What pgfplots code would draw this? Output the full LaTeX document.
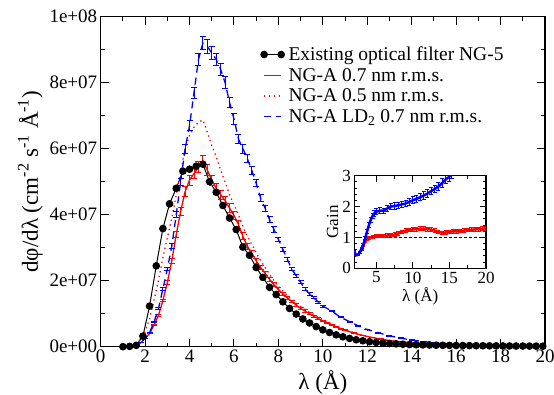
\documentclass[border=0pt]{standalone}
\usepackage{pgfplots}
\usepackage{pgfplotstable}
\usepackage{fontspec}
\setmainfont{Liberation Serif}
\pgfplotsset{compat=1.18}
\pgfplotsset{endmarks legend/.style={legend image code/.code={\draw[##1, mark repeat=1] plot coordinates {(0cm,0cm) (0.6cm,0cm)};}}}

\pgfplotstableread{
x y
1.0 0
1.3 0.1
1.6 0.4
1.9 3.2
2.2 12.3
2.5 24.5
2.8 35.8
3.1 43.3
3.4 48.0
3.7 53.2
4.0 53.8
4.3 54.7
4.6 55.3
4.9 50.0
5.2 46.8
5.5 42.8
5.8 39.0
6.1 35.5
6.4 30.2
6.7 27.7
7.0 24.0
7.3 21.0
7.6 18.0
7.9 15.8
8.2 13.6
8.5 11.6
8.8 9.9
9.1 8.4
9.4 7.2
9.7 6.1
10.0 5.1
10.3 4.3
10.6 3.6
10.9 3.0
11.2 2.5
11.5 2.1
11.8 1.8
12.1 1.5
12.4 1.3
12.7 1.1
13.0 0.95
13.3 0.85
13.6 0.75
13.9 0.65
14.2 0.6
14.5 0.55
14.8 0.5
15.1 0.45
15.4 0.42
15.7 0.4
16.0 0.37
16.3 0.35
16.6 0.33
16.9 0.3
17.2 0.28
17.5 0.26
17.8 0.25
18.1 0.23
18.4 0.22
18.7 0.2
19.0 0.19
19.3 0.18
19.6 0.17
19.9 0.16
}\blackdata

\pgfplotstableread{
x y
1.4 0
1.6 0.3
1.8 1.2
2.0 2.5
2.2 4.0
2.4 6.5
2.6 9.5
2.8 14.0
3.0 19.5
3.2 26.0
3.4 34.0
3.6 41.0
3.8 47.0
4.0 50.5
4.2 52.5
4.4 54.5
4.6 56.3
4.8 53.5
5.0 50.5
5.2 48.0
5.4 46.0
5.6 44.3
5.8 42.0
6.0 39.8
6.2 37.0
6.4 33.5
6.6 30.5
6.8 28.3
7.0 26.0
7.2 24.0
7.4 22.2
7.6 20.4
7.8 18.8
8.0 17.3
8.2 16.0
8.4 14.8
8.6 13.7
8.8 12.6
9.0 11.6
9.2 10.8
9.4 10.0
9.6 9.2
9.8 8.5
10.0 7.8
10.2 7.2
10.4 6.6
10.6 6.0
10.8 5.5
11.0 5.0
11.4 4.1
11.8 3.4
12.2 2.8
12.6 2.3
13.0 1.9
13.5 1.5
14.0 1.2
14.5 0.95
15.0 0.8
15.5 0.65
16.0 0.55
17.0 0.42
18.0 0.33
19.0 0.26
20.0 0.2
}\redsolid

\pgfplotstableread{
x y
1.4 0
1.6 0.8
1.8 2.5
2.0 4.5
2.2 8.5
2.4 14
2.6 20
2.8 27
3.0 33
3.2 39
3.4 46
3.6 53
3.8 60
4.0 64
4.2 66.5
4.4 68
4.6 68.7
4.8 65
5.0 61
5.2 57.5
5.4 53.5
5.6 50
5.8 46
6.0 43
6.2 40
6.4 36.5
6.6 33.5
6.8 31
7.0 28.5
7.2 26
7.4 24
7.6 22
7.8 20
8.0 18.3
8.4 15.5
8.8 13.2
9.2 11.3
9.6 9.6
10.0 8.2
10.5 6.6
11.0 5.2
11.5 4.0
12.0 3.0
12.5 2.3
13.0 1.8
14.0 1.1
15.0 0.7
16.0 0.5
17.0 0.35
18.0 0.25
19.0 0.2
20.0 0.15
}\reddotted

\pgfplotstableread{
x y
1.4 0
1.6 0.4
1.8 1.3
2.0 2.5
2.2 4.3
2.4 7.5
2.6 11.5
2.8 17.5
3.0 23.5
3.2 30.5
3.4 40
3.6 50
3.8 60
4.0 67
4.2 77
4.4 87
4.6 92
4.8 91
5.0 89
5.2 87
5.4 84
5.6 80
5.8 74
6.0 69
6.2 63
6.4 60
6.6 57
6.8 53.5
7.0 49.5
7.2 45
7.4 42
7.6 38.5
7.8 35.5
8.0 32.5
8.2 29.5
8.4 26.5
8.6 23.5
8.8 21.5
9.0 19.5
9.2 17.5
9.4 16
9.6 14.8
9.8 13.5
10.0 12.3
10.4 10.8
10.8 8.9
11.2 7.6
11.6 6.3
12.0 5.2
12.5 4.2
13.0 3.3
13.5 2.6
14.0 2.0
14.5 1.6
15.0 1.2
15.5 0.9
16.0 0.7
17.0 0.5
18.0 0.35
19.0 0.25
20.0 0.2
}\bluedata

\pgfplotstableread{
x y
2.0 0.55
2.2 0.42
2.5 0.44
2.75 0.52
3.0 0.62
3.25 0.78
3.5 0.97
3.75 1.2
4.0 1.4
4.25 1.57
4.5 1.7
4.75 1.78
5.0 1.83
5.5 1.87
6.0 1.86
6.5 1.94
7.0 2.0
7.5 2.02
8.0 2.04
8.5 2.07
9.0 2.1
9.5 2.15
10.0 2.2
10.5 2.25
11.0 2.3
11.5 2.36
12.0 2.42
12.5 2.5
13.0 2.57
13.5 2.65
14.0 2.76
14.5 2.88
15.0 2.97
15.3 3.05
}\bluegain

\pgfplotstableread{
x y
2.0 0.55
2.2 0.42
2.5 0.44
2.75 0.52
3.0 0.63
3.25 0.75
3.5 0.87
3.75 0.95
4.0 0.99
4.5 1.02
5.0 1.04
5.5 1.05
6.0 1.05
6.5 1.06
7.0 1.07
7.5 1.09
8.0 1.13
8.5 1.18
9.0 1.22
9.5 1.24
10.0 1.26
10.5 1.27
11.0 1.28
11.5 1.28
12.0 1.27
12.5 1.25
13.0 1.22
13.5 1.18
14.0 1.15
14.5 1.16
15.0 1.18
15.5 1.2
16.0 1.2
16.5 1.21
17.0 1.22
17.5 1.24
18.0 1.25
18.5 1.26
19.0 1.27
19.5 1.28
20.0 1.3
}\redgain

\begin{document}
\begin{tikzpicture}
\begin{axis}[
  name=main, at={(0pt,0pt)}, anchor=south west,
  scale only axis, width=444.3pt, height=330pt,
  xmin=0, xmax=20, ymin=0, ymax=100,
  xtick={0,2,...,20}, minor x tick num=1,
  ytick={0,20,40,60,80,100}, minor y tick num=1,
  yticklabels={0e+00,2e+07,4e+07,6e+07,8e+07,1e+08},
  scaled y ticks=false,
  /pgf/number format/assume math mode=true,
  tick align=inside, xtick pos=both, ytick pos=both,
  xticklabel pos=lower, yticklabel pos=left,
  major tick length=8pt, minor tick length=4pt,
  axis line style={line width=1.2pt},
  every tick/.style={black, line width=1pt},
  tick label style={font=\fontsize{19}{20}\selectfont},
  xlabel={λ (Å)}, ylabel={dφ/dλ (cm\textsuperscript{-2} s\textsuperscript{-1} Å\textsuperscript{-1})},
  label style={font=\fontsize{23}{25}\selectfont},
  xlabel style={yshift=-1pt},
  legend style={draw=none, fill=none, at={(0.36,0.912)}, anchor=north west,
    font=\fontsize{19.5}{21}\selectfont, inner sep=0pt, row sep=4pt,
    nodes={inner xsep=4pt, inner ysep=1pt}},
  legend cell align=left,
  error bars/error mark options={rotate=90, line width=1pt, mark size=3pt},
]
\addplot[black, line width=1pt, mark=*, mark size=3.3pt, endmarks legend]
  table {\blackdata};
\addlegendentry{Existing optical filter NG-5}
\addplot[red, line width=1.3pt, forget plot, error bars/.cd, y dir=both, y fixed relative=0.03,
  error bar style={line width=1pt}]
  table {\redsolid};
\addlegendimage{color=red, line width=1.3pt, solid}
\addlegendentry{NG-A 0.7 nm r.m.s.}
\addplot[red, line width=1.3pt, dash pattern=on 1.3pt off 3.5pt]
  table {\reddotted};
\addlegendentry{NG-A 0.5 nm r.m.s.}
\addplot[blue, line width=1.3pt, forget plot, dash pattern=on 7pt off 5pt, error bars/.cd, y dir=both, y fixed relative=0.022,
  error bar style={line width=1pt, solid}]
  table {\bluedata};
\addlegendimage{color=blue, line width=1.3pt, dash pattern=on 7pt off 5pt}
\addlegendentry{NG-A LD\textsubscript{2} 0.7 nm r.m.s.}
\end{axis}

\begin{axis}[
  name=inset, at={(253.6pt,78.4pt)}, anchor=south west,
  scale only axis, width=131.7pt, height=92.6pt,
  axis background/.style={fill=white},
  xmin=2, xmax=20, ymin=0, ymax=3,
  xtick={5,10,15,20}, minor x tick num=1,
  ytick={0,1,2,3}, minor y tick num=4,
  /pgf/number format/assume math mode=true,
  tick align=inside, xtick pos=both, ytick pos=both,
  xticklabel pos=lower, yticklabel pos=left,
  major tick length=6pt, minor tick length=3pt,
  axis line style={line width=1.2pt},
  every tick/.style={black, line width=0.9pt},
  tick label style={font=\fontsize{17}{18}\selectfont},
  xlabel={λ (Å)}, ylabel={Gain},
  label style={font=\fontsize{17}{18}\selectfont},
  xlabel style={yshift=3pt}, ylabel style={yshift=-3pt},
  error bars/error mark options={rotate=90, line width=1pt, mark size=2pt},
]
\addplot[black, line width=0.8pt, dash pattern=on 3pt off 2pt] coordinates {(2,1) (20,1)};
\addplot[red, line width=2.5pt, error bars/.cd, y dir=both, y fixed relative=0.05,
  error bar style={line width=1pt}] table {\redgain};
\addplot[blue, line width=2.5pt, error bars/.cd, y dir=both, y fixed relative=0.05,
  error bar style={line width=1pt}] table {\bluegain};
\end{axis}
\pgfresetboundingbox
\useasboundingbox (-100.7pt,-48.3pt) rectangle (453.3pt,346.7pt);
\end{tikzpicture}
\end{document}
